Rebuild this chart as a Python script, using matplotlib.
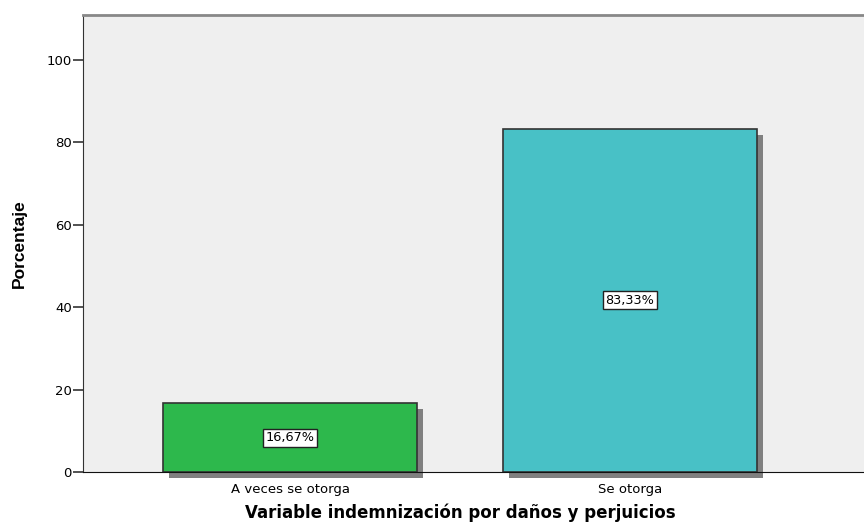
import matplotlib
matplotlib.use("Agg")
import matplotlib.pyplot as plt
import matplotlib.patheffects as pe

categorias = ['A veces se otorga', 'Se otorga']
porcentajes = [16.67, 83.33]
etiquetas = ['16,67%', '83,33%']
colores = ['#2db84c', '#48c1c6']

plt.rcParams['font.family'] = ['DejaVu Sans']

fig = plt.figure(figsize=(8.64, 5.23), dpi=100)
ax = fig.add_axes([0.096, 0.0975, 0.904, 0.8738])
ax.set_facecolor('#efefef')

x = list(range(len(categorias)))
bars = ax.bar(x, porcentajes, width=0.747, color=colores, edgecolor='#333333',
              linewidth=1.2, zorder=3)
for b in bars:
    b.set_clip_on(False)
    b.set_path_effects([pe.SimplePatchShadow(offset=(4.3, -4.3), shadow_rgbFace='#808080',
                                             alpha=1.0), pe.Normal()])

for xi, val, txt in zip(x, porcentajes, etiquetas):
    ax.text(xi, val / 2, txt, ha='center', va='center', fontsize=9.3, zorder=5,
            bbox=dict(boxstyle='square,pad=0.2', facecolor='white', edgecolor='#222222', linewidth=1))

ax.set_xlim(-0.609, 1.688)
ax.set_ylim(0, 110.9)
ax.set_yticks([0, 20, 40, 60, 80, 100])
ax.set_xticks(x)
ax.set_xticklabels(categorias)
ax.tick_params(axis='y', labelsize=9.5, length=7, width=1.2, color='#333333', pad=1)
ax.tick_params(axis='x', labelsize=9.5, length=3, width=1, color='#333333', pad=5)

ax.spines['right'].set_visible(False)
ax.spines['top'].set_color('#888888')
ax.spines['top'].set_linewidth(2)
ax.spines['left'].set_color('#333333')
ax.spines['bottom'].set_color('#111111')
ax.spines['bottom'].set_zorder(4)

ax.set_ylabel('Porcentaje', family=['Liberation Sans Narrow', 'Liberation Sans'], fontsize=12.5,
              fontweight='bold', labelpad=14)
ax.set_xlabel('Variable indemnización por daños y perjuicios', fontsize=12,
              fontweight='bold')
ax.xaxis.set_label_coords(0.483, -0.09, transform=ax.transAxes)
ax.xaxis.label.set_va('center')

fig.savefig('out.png', dpi=100)
